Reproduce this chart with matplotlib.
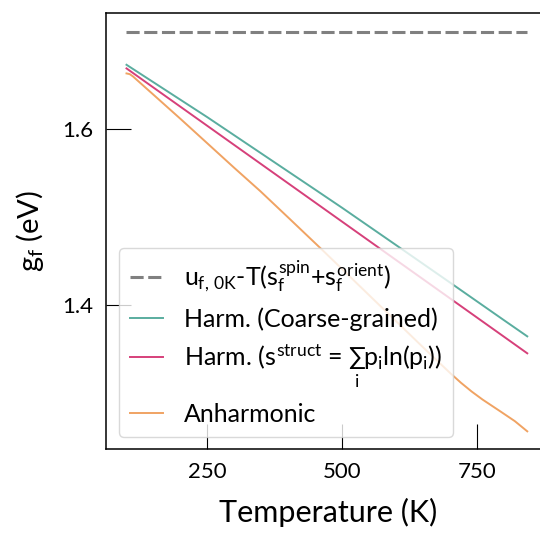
import matplotlib
matplotlib.use("Agg")
import matplotlib.pyplot as plt
import numpy as np

plt.rcParams['font.family'] = ['Lato', 'DejaVu Sans']
plt.rcParams['mathtext.fontset'] = 'custom'
plt.rcParams['mathtext.rm'] = 'Lato'
plt.rcParams['mathtext.it'] = 'Lato'
plt.rcParams['mathtext.bf'] = 'Lato:bold'

# Data (temperature in K, free energies in eV)
temps = [100, 150, 200, 250, 300, 350, 400, 450, 500, 550, 600, 650, 700, 750, 800, 843]
g_ref = [1.709] * len(temps)
g_coarse = [1.6724, 1.6526, 1.6328, 1.6130, 1.5925, 1.5720, 1.5515, 1.5310, 1.5104,
            1.4893, 1.4682, 1.4470, 1.4258, 1.4045, 1.3832, 1.3650]
g_struct = [1.6683, 1.6466, 1.6249, 1.6032, 1.5815, 1.5598, 1.5381, 1.5164, 1.4947,
            1.4730, 1.4513, 1.4296, 1.4079, 1.3862, 1.3645, 1.3458]
temps_anh = [100, 106, 112, 150, 200, 236, 300, 348, 400, 462, 500, 552, 600, 650, 700,
             720, 740, 760, 794, 820, 843]
g_anh = [1.6626, 1.6618, 1.6592, 1.6385, 1.6112, 1.5912, 1.5556, 1.5294, 1.4994, 1.4634,
         1.4410, 1.4103, 1.3820, 1.3525, 1.3235, 1.3125, 1.3025, 1.2935, 1.2797, 1.2690, 1.2575]

labels = [
    r"$u_{f,\,0K}$-T($s_f^{spin}$+$s_f^{orient}$)",
    "Harm. (Coarse-grained)",
    r"Harm. ($s^{struct}$ = $\sum_i p_i \mathrm{ln}(p_i)$)",
    "Anharmonic",
]
colors = ["#808080", "#5aad9f", "#d6407a", "#f0a363"]

fig = plt.figure(figsize=(5.4, 5.36), dpi=100)
ax = fig.add_axes([106/540, 1-449/536, 445/540, 436/536])

ax.plot(temps, g_ref, ls=(0, (4.3, 1.5)), color=colors[0], lw=2.2, label=labels[0])
ax.plot(temps, g_coarse, color=colors[1], lw=1.4, label=labels[1])
ax.plot(temps, g_struct, color=colors[2], lw=1.4, label=labels[2])
ax.plot(temps_anh, g_anh, color=colors[3], lw=1.4, label=labels[3])

ax.set_xlim(62, 887)
ax.set_ylim(1.2375, 1.731)
ax.set_xticks([250, 500, 750])
ax.set_yticks([1.4, 1.6])
ax.tick_params(direction='in', length=18, width=0.8, labelsize=16, pad=9)
for s in ax.spines.values():
    s.set_linewidth(1.1)
ax.spines['right'].set_visible(False)

ax.set_xlabel("Temperature (K)", fontsize=22, labelpad=12)
ax.set_ylabel(r"$g_f$ (eV)", fontsize=21, labelpad=12)

leg = ax.legend(loc='lower left', bbox_to_anchor=(0.029, 0.0275), borderaxespad=0,
                fontsize=18, handlelength=1.3, handletextpad=0.85, labelspacing=0.5,
                framealpha=0.8, edgecolor='#d0d0d0', fancybox=True, borderpad=0.45)

fig.savefig("out.png", dpi=100)
